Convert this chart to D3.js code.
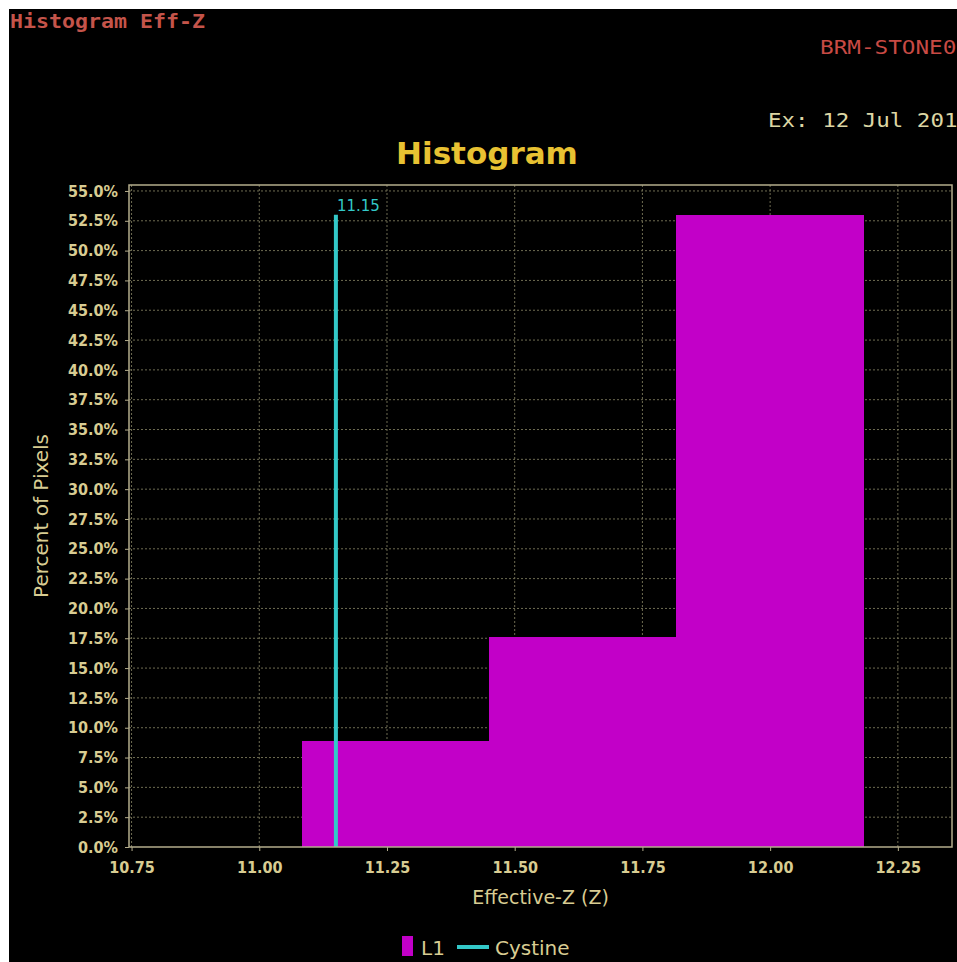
<!DOCTYPE html>
<html>
<head>
<meta charset="utf-8">
<script src="https://cdn.jsdelivr.net/npm/d3@7"></script>
<style>
	body{margin:0;background:#fff;}
	svg{display:block;}
</style>
</head>
<body>
<svg id="svgChart" width="957" height="962"></svg>
<script>
	// histogram bins (Effective-Z), bar heights in percent of pixels
	var binEdges = [11.083, 11.449, 11.815, 12.181];
	var binPercents = [8.9, 17.6, 53.0];
	var xTicks = [10.75, 11.00, 11.25, 11.50, 11.75, 12.00, 12.25];
	var yTicks = [0, 2.5, 5, 7.5, 10, 12.5, 15, 17.5, 20, 22.5, 25, 27.5, 30, 32.5, 35, 37.5, 40, 42.5, 45, 47.5, 50, 52.5, 55];
	var markerName = "Cystine";
	var markerValue = 11.15;
	var seriesName = "L1";

	var colors = {
		bg: "#000000",
		bar: "#c200c8",
		marker: "#33c8c8",
		frame: "#b4ad8c",
		grid: "#6e6c52",
		tick: "#d8cc92",
		title: "#e8c232",
		header: "#c4544a",
		subtitle: "#c84a44",
		date: "#dcd6a4"
	};

	var svg = d3.select("#svgChart");
	var plot = {left: 129, right: 952, top: 185, bottom: 847};

	svg.append("rect")
		.attr("x", 9).attr("y", 9)
		.attr("width", 957 - 9).attr("height", 962 - 9)
		.attr("fill", colors.bg);

	var x = d3.scaleLinear()
		.domain([10.745, 12.356])
		.range([plot.left, plot.right]);
	var y = d3.scaleLinear()
		.domain([0, 55.5])
		.range([plot.bottom, plot.top]);

	/*
		header texts (clipped at the right, like the screenshot)
	*/
	var mono = "'DejaVu Sans Mono', monospace";
	svg.append("text")
		.attr("x", 10).attr("y", 28)
		.attr("font-family", mono).attr("font-weight", "bold")
		.attr("font-size", 20)
		.attr("textLength", 195).attr("lengthAdjust", "spacingAndGlyphs")
		.attr("fill", colors.header)
		.text("Histogram Eff-Z");
	svg.append("text")
		.attr("x", 820).attr("y", 54)
		.attr("font-family", mono)
		.attr("font-size", 20)
		.attr("textLength", 150).attr("lengthAdjust", "spacingAndGlyphs")
		.attr("fill", colors.subtitle)
		.text("BRM-STONE01");
	svg.append("text")
		.attr("x", 768).attr("y", 127)
		.attr("font-family", mono)
		.attr("font-size", 20)
		.attr("textLength", 203).attr("lengthAdjust", "spacingAndGlyphs")
		.attr("fill", colors.date)
		.text("Ex: 12 Jul 2015");

	svg.append("text")
		.attr("x", 487).attr("y", 164)
		.attr("text-anchor", "middle")
		.attr("font-family", "'DejaVu Sans', sans-serif")
		.attr("font-weight", "bold")
		.attr("font-size", 31)
		.attr("fill", colors.title)
		.text("Histogram");

	/*
		grid
	*/
	var grid = svg.append("g").attr("class", "grid");
	grid.selectAll(".gx")
		.data(xTicks)
		.enter().append("line")
		.attr("x1", function(d){ return x(d); })
		.attr("x2", function(d){ return x(d); })
		.attr("y1", plot.top).attr("y2", plot.bottom)
		.attr("stroke", colors.grid)
		.attr("stroke-dasharray", "2,2");
	grid.selectAll(".gy")
		.data(yTicks.slice(1))
		.enter().append("line")
		.attr("y1", function(d){ return y(d); })
		.attr("y2", function(d){ return y(d); })
		.attr("x1", plot.left).attr("x2", plot.right)
		.attr("stroke", colors.grid)
		.attr("stroke-dasharray", "2,2");

	/*
		bars
	*/
	var bins = binPercents.map(function(p, i){
		return {x0: binEdges[i], x1: binEdges[i + 1], value: p};
	});
	svg.append("g").selectAll("rect")
		.data(bins)
		.enter().append("rect")
		.attr("x", function(d){ return Math.round(x(d.x0)); })
		.attr("width", function(d){ return Math.round(x(d.x1)) - Math.round(x(d.x0)) + 1; })
		.attr("y", function(d){ return y(d.value); })
		.attr("height", function(d){ return y(0) - y(d.value); })
		.attr("shape-rendering", "crispEdges")
		.attr("fill", colors.bar);

	// marker line, as tall as the highest bin
	var markerTop = d3.max(binPercents);
	svg.append("line")
		.attr("x1", x(markerValue)).attr("x2", x(markerValue))
		.attr("y1", y(0)).attr("y2", y(markerTop))
		.attr("stroke", colors.marker)
		.attr("stroke-width", 4);
	svg.append("text")
		.attr("x", x(markerValue) + 1).attr("y", y(markerTop) - 4)
		.attr("font-family", "'DejaVu Sans', sans-serif")
		.attr("font-size", 15)
		.attr("fill", colors.marker)
		.text(markerValue.toFixed(2));

	/*
		axes + frame
	*/
	var tickFont = "'DejaVu Sans Condensed', 'DejaVu Sans', sans-serif";
	var labelFont = "'DejaVu Sans', sans-serif";
	var xAxis = svg.append("g")
		.attr("transform", "translate(0," + plot.bottom + ")")
		.call(d3.axisBottom(x).tickValues(xTicks).tickSize(4).tickPadding(11)
			.tickFormat(d3.format(".2f")));
	var yAxis = svg.append("g")
		.attr("transform", "translate(" + plot.left + ",0)")
		.call(d3.axisLeft(y).tickValues(yTicks).tickSize(4).tickPadding(7)
			.tickFormat(function(d){ return d.toFixed(1) + "%"; }));
	[xAxis, yAxis].forEach(function(a){
		a.select(".domain").remove();
		a.selectAll(".tick line").attr("stroke", colors.frame);
		a.selectAll(".tick text")
			.attr("fill", colors.tick)
			.attr("font-family", tickFont)
			.attr("font-weight", "bold")
			.attr("font-size", 16);
	});

	svg.append("rect")
		.attr("x", plot.left).attr("y", plot.top)
		.attr("width", plot.right - plot.left)
		.attr("height", plot.bottom - plot.top)
		.attr("fill", "none")
		.attr("stroke", colors.frame)
		.attr("stroke-width", 1.5);

	svg.append("text")
		.attr("transform", "translate(48," + ((plot.top + plot.bottom) / 2) + ") rotate(-90)")
		.attr("text-anchor", "middle")
		.attr("font-family", labelFont)
		.attr("font-size", 20)
		.attr("fill", colors.tick)
		.text("Percent of Pixels");
	svg.append("text")
		.attr("x", (plot.left + plot.right) / 2).attr("y", 904)
		.attr("text-anchor", "middle")
		.attr("font-family", labelFont)
		.attr("font-size", 19)
		.attr("fill", colors.tick)
		.text("Effective-Z (Z)");

	/*
		legend
	*/
	var legend = svg.append("g").attr("transform", "translate(402,955)");
	legend.append("rect")
		.attr("x", 0).attr("y", -19)
		.attr("width", 11).attr("height", 20)
		.attr("fill", colors.bar);
	legend.append("text")
		.attr("x", 19).attr("y", 0)
		.attr("font-family", labelFont).attr("font-size", 20)
		.attr("fill", colors.tick)
		.text(seriesName);
	legend.append("line")
		.attr("x1", 55).attr("x2", 87)
		.attr("y1", -8).attr("y2", -8)
		.attr("stroke", colors.marker).attr("stroke-width", 4);
	legend.append("text")
		.attr("x", 93).attr("y", 0)
		.attr("font-family", labelFont).attr("font-size", 20)
		.attr("fill", colors.tick)
		.text(markerName);
</script>
</body>
</html>
